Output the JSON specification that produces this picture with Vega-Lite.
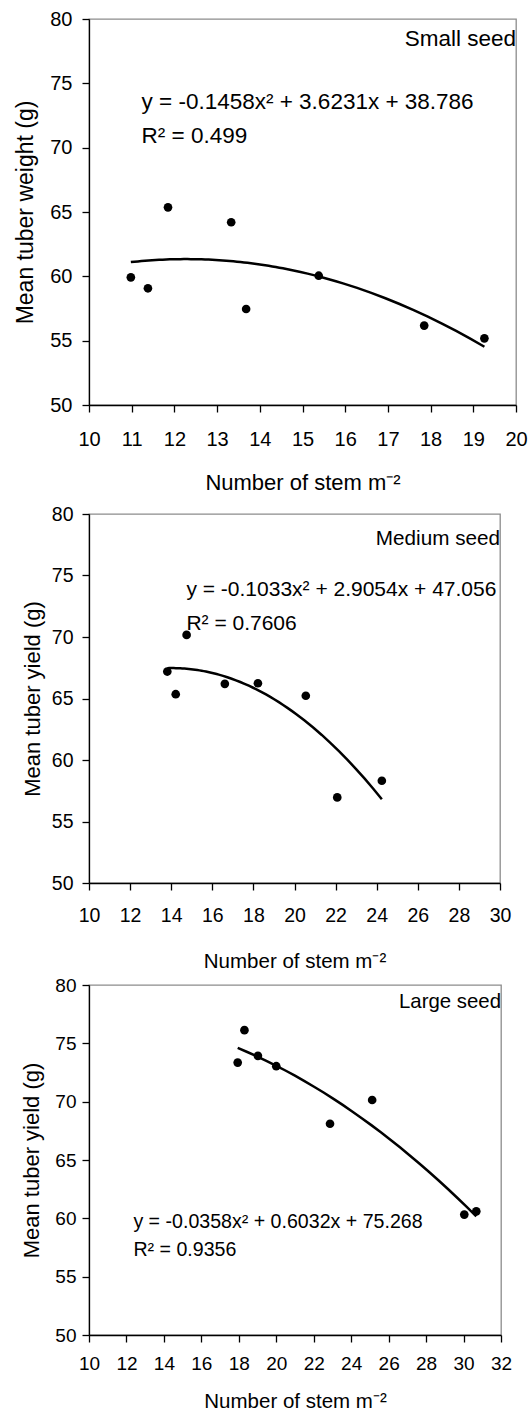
{
  "$schema": "https://vega.github.io/schema/vega-lite/v6.json",
  "padding": {"left": 14, "top": 8, "right": 0, "bottom": 0},
  "background": "white",
  "spacing": 2,
  "config": {
    "view": {"stroke": "#8c8c8c", "strokeWidth": 1.3},
    "font": "Liberation Sans",
    "axis": {"grid": false, "domainColor": "black", "tickColor": "black", "domainWidth": 1.3, "tickWidth": 1.3, "tickSize": 7, "labelColor": "black", "titleColor": "black", "labelFont": "Liberation Sans", "titleFont": "Liberation Sans", "titleFontWeight": "normal", "labelFlush": false, "labelOverlap": false, "labelBound": false}
  },
  "vconcat": [
    {
      "width": 427, "height": 386,
      "layer": [
        {
          "data": {"name": "small", "values": [
            {"stems": 10.98, "weight": 59.92},
            {"stems": 11.38, "weight": 59.07},
            {"stems": 11.85, "weight": 65.36},
            {"stems": 13.33, "weight": 64.2},
            {"stems": 13.68, "weight": 57.46},
            {"stems": 15.38, "weight": 60.05},
            {"stems": 17.85, "weight": 56.17},
            {"stems": 19.26, "weight": 55.18}
          ]},
          "layer": [
            {"mark": {"type": "circle", "size": 75, "color": "black", "opacity": 1}},
            {"transform": [{"regression": "weight", "on": "stems", "method": "poly", "order": 2}],
             "mark": {"type": "line", "color": "black", "strokeWidth": 2.5}}
          ],
          "encoding": {
            "x": {"field": "stems", "type": "quantitative", "scale": {"domain": [10, 20], "nice": false, "zero": false},
              "axis": {"values": [10,11,12,13,14,15,16,17,18,19,20], "labelFontSize": 20, "labelPadding": 17.5, "titleFontSize": 22, "titlePadding": 23, "title": ["Number of stem m⁻²", ""], "titleLineHeight": 6.5}},
            "y": {"field": "weight", "type": "quantitative", "scale": {"domain": [50, 80], "nice": false, "zero": false},
              "axis": {"values": [50,55,60,65,70,75,80], "labelFontSize": 20, "labelPadding": 10, "titleFontSize": 23, "titlePadding": 12, "title": "Mean tuber weight (g)"}}
          }
        },
        {
          "data": {"values": [{"label": "Small seed"}]},
          "mark": {"type": "text", "align": "right", "baseline": "alphabetic", "fontSize": 22.5, "color": "black"},
          "encoding": {
            "x": {"datum": 20, "type": "quantitative", "axis": {"values": [10,11,12,13,14,15,16,17,18,19,20], "labelFontSize": 20, "labelPadding": 17.5, "titleFontSize": 22, "titlePadding": 23, "title": ["Number of stem m⁻²", ""], "titleLineHeight": 6.5}},
            "y": {"datum": 77.93, "type": "quantitative", "axis": {"values": [50,55,60,65,70,75,80], "labelFontSize": 20, "labelPadding": 10, "titleFontSize": 23, "titlePadding": 12, "title": "Mean tuber weight (g)"}},
            "text": {"field": "label"}}
        },
        {
          "data": {"values": [{"label": ["y = -0.1458x² + 3.6231x + 38.786", "R² = 0.499"]}]},
          "mark": {"type": "text", "align": "left", "baseline": "alphabetic", "fontSize": 22.5, "lineHeight": 34, "color": "black"},
          "encoding": {
            "x": {"datum": 11.23, "type": "quantitative", "axis": {"values": [10,11,12,13,14,15,16,17,18,19,20], "labelFontSize": 20, "labelPadding": 17.5, "titleFontSize": 22, "titlePadding": 23, "title": ["Number of stem m⁻²", ""], "titleLineHeight": 6.5}},
            "y": {"datum": 72.99, "type": "quantitative", "axis": {"values": [50,55,60,65,70,75,80], "labelFontSize": 20, "labelPadding": 10, "titleFontSize": 23, "titlePadding": 12, "title": "Mean tuber weight (g)"}},
            "text": {"field": "label"}}
        }
      ]
    },
    {
      "width": 411, "height": 369,
      "layer": [
        {
          "data": {"name": "medium", "values": [
            {"stems": 13.81, "yield": 67.19},
            {"stems": 14.22, "yield": 65.35},
            {"stems": 14.75, "yield": 70.17},
            {"stems": 16.61, "yield": 66.19},
            {"stems": 18.22, "yield": 66.24},
            {"stems": 20.55, "yield": 65.22},
            {"stems": 22.08, "yield": 56.96},
            {"stems": 24.25, "yield": 58.31}
          ]},
          "layer": [
            {"mark": {"type": "circle", "size": 75, "color": "black", "opacity": 1}},
            {"transform": [{"regression": "yield", "on": "stems", "method": "poly", "order": 2}],
             "mark": {"type": "line", "color": "black", "strokeWidth": 2.5}}
          ],
          "encoding": {
            "x": {"field": "stems", "type": "quantitative", "scale": {"domain": [10, 30], "nice": false, "zero": false},
              "axis": {"values": [10,12,14,16,18,20,22,24,26,28,30], "labelFontSize": 19.5, "labelPadding": 16.8, "titleFontSize": 20.5, "titlePadding": 26, "title": "Number of stem m⁻²"}},
            "y": {"field": "yield", "type": "quantitative", "scale": {"domain": [50, 80], "nice": false, "zero": false},
              "axis": {"values": [50,55,60,65,70,75,80], "labelFontSize": 19.5, "labelPadding": 9, "titleFontSize": 22, "titlePadding": 7, "title": "Mean tuber yield (g)"}}
          }
        },
        {
          "data": {"values": [{"label": "Medium seed"}]},
          "mark": {"type": "text", "align": "right", "baseline": "alphabetic", "fontSize": 20.7, "color": "black"},
          "encoding": {
            "x": {"datum": 30, "type": "quantitative", "axis": {"values": [10,12,14,16,18,20,22,24,26,28,30], "labelFontSize": 19.5, "labelPadding": 16.8, "titleFontSize": 20.5, "titlePadding": 26, "title": "Number of stem m⁻²"}},
            "y": {"datum": 77.48, "type": "quantitative", "axis": {"values": [50,55,60,65,70,75,80], "labelFontSize": 19.5, "labelPadding": 9, "titleFontSize": 22, "titlePadding": 7, "title": "Mean tuber yield (g)"}},
            "text": {"field": "label"}}
        },
        {
          "data": {"values": [{"label": ["y = -0.1033x² + 2.9054x + 47.056", "R² = 0.7606"]}]},
          "mark": {"type": "text", "align": "left", "baseline": "alphabetic", "fontSize": 21, "lineHeight": 34, "color": "black"},
          "encoding": {
            "x": {"datum": 14.74, "type": "quantitative", "axis": {"values": [10,12,14,16,18,20,22,24,26,28,30], "labelFontSize": 19.5, "labelPadding": 16.8, "titleFontSize": 20.5, "titlePadding": 26, "title": "Number of stem m⁻²"}},
            "y": {"datum": 73.37, "type": "quantitative", "axis": {"values": [50,55,60,65,70,75,80], "labelFontSize": 19.5, "labelPadding": 9, "titleFontSize": 22, "titlePadding": 7, "title": "Mean tuber yield (g)"}},
            "text": {"field": "label"}}
        }
      ]
    },
    {
      "width": 412, "height": 350,
      "layer": [
        {
          "data": {"name": "large", "values": [
            {"stems": 17.94, "yield": 73.35},
            {"stems": 18.3, "yield": 76.13},
            {"stems": 19.02, "yield": 73.93},
            {"stems": 20.0, "yield": 73.04},
            {"stems": 22.87, "yield": 68.11},
            {"stems": 25.12, "yield": 70.14},
            {"stems": 30.04, "yield": 60.32},
            {"stems": 30.68, "yield": 60.6}
          ]},
          "layer": [
            {"mark": {"type": "circle", "size": 75, "color": "black", "opacity": 1}},
            {"transform": [{"regression": "yield", "on": "stems", "method": "poly", "order": 2}],
             "mark": {"type": "line", "color": "black", "strokeWidth": 2.5}}
          ],
          "encoding": {
            "x": {"field": "stems", "type": "quantitative", "scale": {"domain": [10, 32], "nice": false, "zero": false},
              "axis": {"values": [10,12,14,16,18,20,22,24,26,28,30,32], "labelFontSize": 19, "labelPadding": 12.5, "titleFontSize": 20.5, "titlePadding": 18, "title": "Number of stem m⁻²"}},
            "y": {"field": "yield", "type": "quantitative", "scale": {"domain": [50, 80], "nice": false, "zero": false},
              "axis": {"values": [50,55,60,65,70,75,80], "labelFontSize": 19, "labelPadding": 6, "titleFontSize": 22, "titlePadding": 11, "title": "Mean tuber yield (g)"}}
          }
        },
        {
          "data": {"values": [{"label": "Large seed"}]},
          "mark": {"type": "text", "align": "right", "baseline": "alphabetic", "fontSize": 20.4, "color": "black"},
          "encoding": {
            "x": {"datum": 32, "type": "quantitative", "axis": {"values": [10,12,14,16,18,20,22,24,26,28,30,32], "labelFontSize": 19, "labelPadding": 12.5, "titleFontSize": 20.5, "titlePadding": 18, "title": "Number of stem m⁻²"}},
            "y": {"datum": 78.05, "type": "quantitative", "axis": {"values": [50,55,60,65,70,75,80], "labelFontSize": 19, "labelPadding": 6, "titleFontSize": 22, "titlePadding": 11, "title": "Mean tuber yield (g)"}},
            "text": {"field": "label"}}
        },
        {
          "data": {"values": [{"label": ["y = -0.0358x² + 0.6032x + 75.268", "R² = 0.9356"]}]},
          "mark": {"type": "text", "align": "left", "baseline": "alphabetic", "fontSize": 19.6, "lineHeight": 28, "color": "black"},
          "encoding": {
            "x": {"datum": 12.37, "type": "quantitative", "axis": {"values": [10,12,14,16,18,20,22,24,26,28,30,32], "labelFontSize": 19, "labelPadding": 12.5, "titleFontSize": 20.5, "titlePadding": 18, "title": "Number of stem m⁻²"}},
            "y": {"datum": 59.15, "type": "quantitative", "axis": {"values": [50,55,60,65,70,75,80], "labelFontSize": 19, "labelPadding": 6, "titleFontSize": 22, "titlePadding": 11, "title": "Mean tuber yield (g)"}},
            "text": {"field": "label"}}
        }
      ]
    }
  ]
}
